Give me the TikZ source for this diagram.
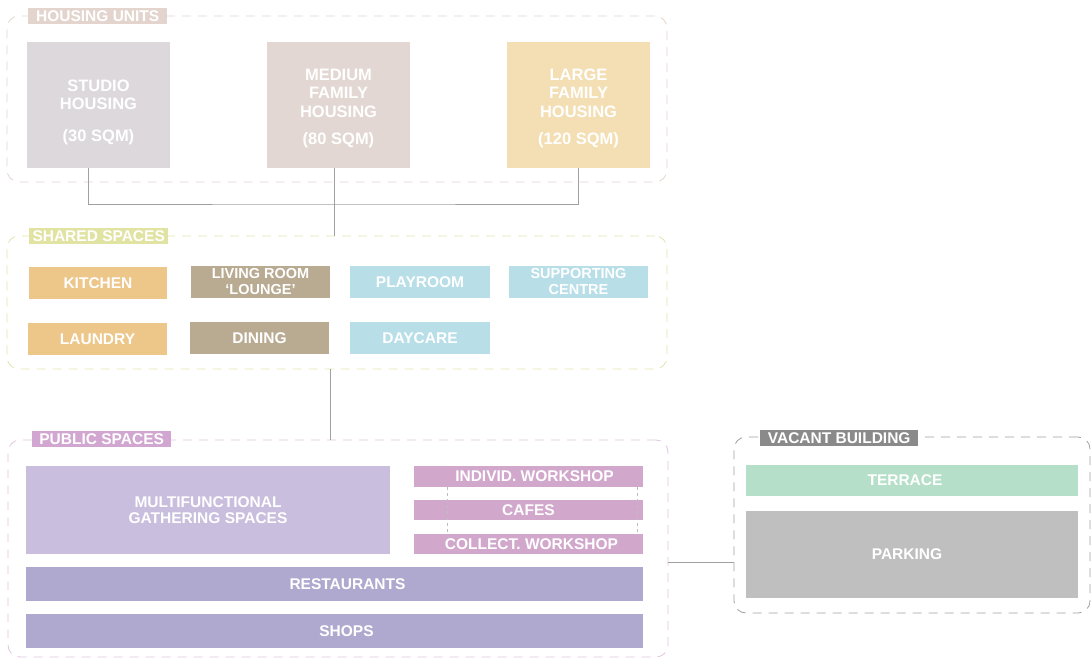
\documentclass[tikz,border=0pt]{standalone}
\usepackage{fontspec}
\setmainfont{Liberation Sans}
\usetikzlibrary{positioning}

\definecolor{houseline}{HTML}{E3D5CE}
\definecolor{housetag}{HTML}{E3D5CE}
\definecolor{studiofill}{HTML}{DCD8DC}
\definecolor{mediumfill}{HTML}{E2D7D2}
\definecolor{largefill}{HTML}{F3DFB3}
\definecolor{sharedline}{HTML}{E2E2AA}
\definecolor{sharedtag}{HTML}{E1E3A2}
\definecolor{cookfill}{HTML}{EDC68A}
\definecolor{livefill}{HTML}{B9AA92}
\definecolor{carefill}{HTML}{B8DEE8}
\definecolor{publicline}{HTML}{E0C3E0}
\definecolor{publictag}{HTML}{D1A6D0}
\definecolor{gatherfill}{HTML}{C9BEDE}
\definecolor{workfill}{HTML}{D2A7CC}
\definecolor{streetfill}{HTML}{B0A9CF}
\definecolor{vacantline}{HTML}{9E9E9E}
\definecolor{vacanttag}{HTML}{8A8A8A}
\definecolor{terracefill}{HTML}{B5DFC8}
\definecolor{parkfill}{HTML}{BFBFBF}
\definecolor{linkgray}{HTML}{A0A0A0}

\begin{document}
\begin{tikzpicture}[x=1pt, y=-1pt,
        zone/.style={dash pattern=on 9pt off 7pt, rounded corners=12pt, line width=0.8pt},
        tag/.style={text=white, anchor=west, inner sep=0pt, minimum height=16, font=\bfseries\fontsize{15.5}{15.5}\selectfont},
        room/.style={text=white, align=center, inner sep=1pt, font=\bfseries\fontsize{15.5}{16}\selectfont},
        unit/.style={room, minimum width=143, minimum height=126, font=\bfseries\fontsize{16.5}{18.5}\selectfont},
        link/.style={draw=linkgray, line width=0.8pt},
        tick/.style={draw=linkgray!70, line width=0.5pt, dash pattern=on 3pt off 3pt},
    ]
    \useasboundingbox (0,0) rectangle (1091,658);

    \node[zone, draw=houseline, minimum width=660, minimum height=166] (housing) at (337,99) {};
    \node[zone, draw=sharedline, minimum width=660, minimum height=133] (shared) at (337,302.5) {};
    \node[zone, draw=publicline, minimum width=660, minimum height=217] (public) at (338,548.5) {};
    \node[zone, draw=vacantline, minimum width=356, minimum height=176] (vacant) at (912,525) {};

    \node[tag, fill=housetag, minimum width=139] (housingtag) at (28,16) {HOUSING UNITS};
    \node[tag, fill=sharedtag, minimum width=139] (sharedtag) at (29,236) {SHARED SPACES};
    \node[tag, fill=publictag, minimum width=139] (publictag) at (32,439) {PUBLIC SPACES};
    \node[tag, fill=vacanttag, minimum width=158] (vacanttag) at (760,438) {VACANT BUILDING};

    \node[unit, fill=studiofill] (studio) at (98.5,105) {\rule{0pt}{26pt}STUDIO\\HOUSING\\[13pt](30 SQM)};
    \node[unit, fill=mediumfill] (medium) at (338.5,105) {\rule{0pt}{18pt}MEDIUM\\FAMILY\\HOUSING\\[9pt](80 SQM)};
    \node[unit, fill=largefill] (large) at (578.5,105) {\rule{0pt}{18pt}LARGE\\FAMILY\\HOUSING\\[9pt](120 SQM)};

    \node[room, fill=cookfill, minimum width=138, minimum height=32] (kitchen) at (98,283) {KITCHEN};
    \node[room, fill=livefill, minimum width=139, minimum height=32, font=\bfseries\fontsize{14.5}{16}\selectfont] (living) at (260.5,282) {LIVING ROOM\\`LOUNGE'};
    \node[room, fill=carefill, minimum width=140, minimum height=32] (playroom) at (420,282) {\raisebox{-2pt}{PLAYROOM}};
    \node[room, fill=carefill, minimum width=139, minimum height=32, font=\bfseries\fontsize{14.5}{16}\selectfont] (support) at (578.5,282) {SUPPORTING\\CENTRE};
    \node[room, fill=cookfill, minimum width=139, minimum height=32] (laundry) at (97.5,339) {\raisebox{-2pt}{LAUNDRY}};
    \node[room, fill=livefill, minimum width=139, minimum height=32] (dining) at (259.5,338) {DINING};
    \node[room, fill=carefill, minimum width=140, minimum height=32] (daycare) at (420,338) {\raisebox{-3pt}{DAYCARE}};

    \node[room, fill=gatherfill, minimum width=364, minimum height=88] (gather) at (208,510) {MULTIFUNCTIONAL\\GATHERING SPACES};
    \node[room, fill=workfill, minimum width=229, minimum height=21] (indiv) at (528.5,476.5) {\hspace*{12pt}INDIVID. WORKSHOP};
    \node[room, fill=workfill, minimum width=229, minimum height=20] (cafes) at (528.5,510) {CAFES};
    \node[room, fill=workfill, minimum width=229, minimum height=20] (collect) at (528.5,544) {\hspace*{6pt}COLLECT. WORKSHOP};
    \node[room, fill=streetfill, minimum width=617, minimum height=34] (restaurants) at (334.5,584) {\hspace*{26pt}RESTAURANTS};
    \node[room, fill=streetfill, minimum width=617, minimum height=34] (shops) at (334.5,631) {\hspace*{24pt}SHOPS};

    \node[room, fill=terracefill, minimum width=332, minimum height=31] (terrace) at (912,480) {TERRACE\hspace*{14pt}};
    \node[room, fill=parkfill, minimum width=332, minimum height=87] (parking) at (912,554.5) {PARKING\hspace*{10pt}};

    \coordinate (hub) at (334.5,204);
    \coordinate (tap) at (700,562);
    \draw[link] ([xshift=-10]studio.south) |- (hub) -| (large.south);
    \draw[link] ([xshift=-4]medium.south) -- (hub) -- (hub |- shared.north);
    \draw[link] ([xshift=-7]shared.south) -- ([xshift=-7]shared.south |- public.north);
    \draw[link] (public.east |- tap) -- (vacant.west |- tap);
    \draw[tick] ([xshift=33]indiv.south west) -- ([xshift=33]collect.north west);
    \draw[tick] ([xshift=-6]indiv.south east) -- ([xshift=-6]collect.north east);
\end{tikzpicture}
\end{document}
